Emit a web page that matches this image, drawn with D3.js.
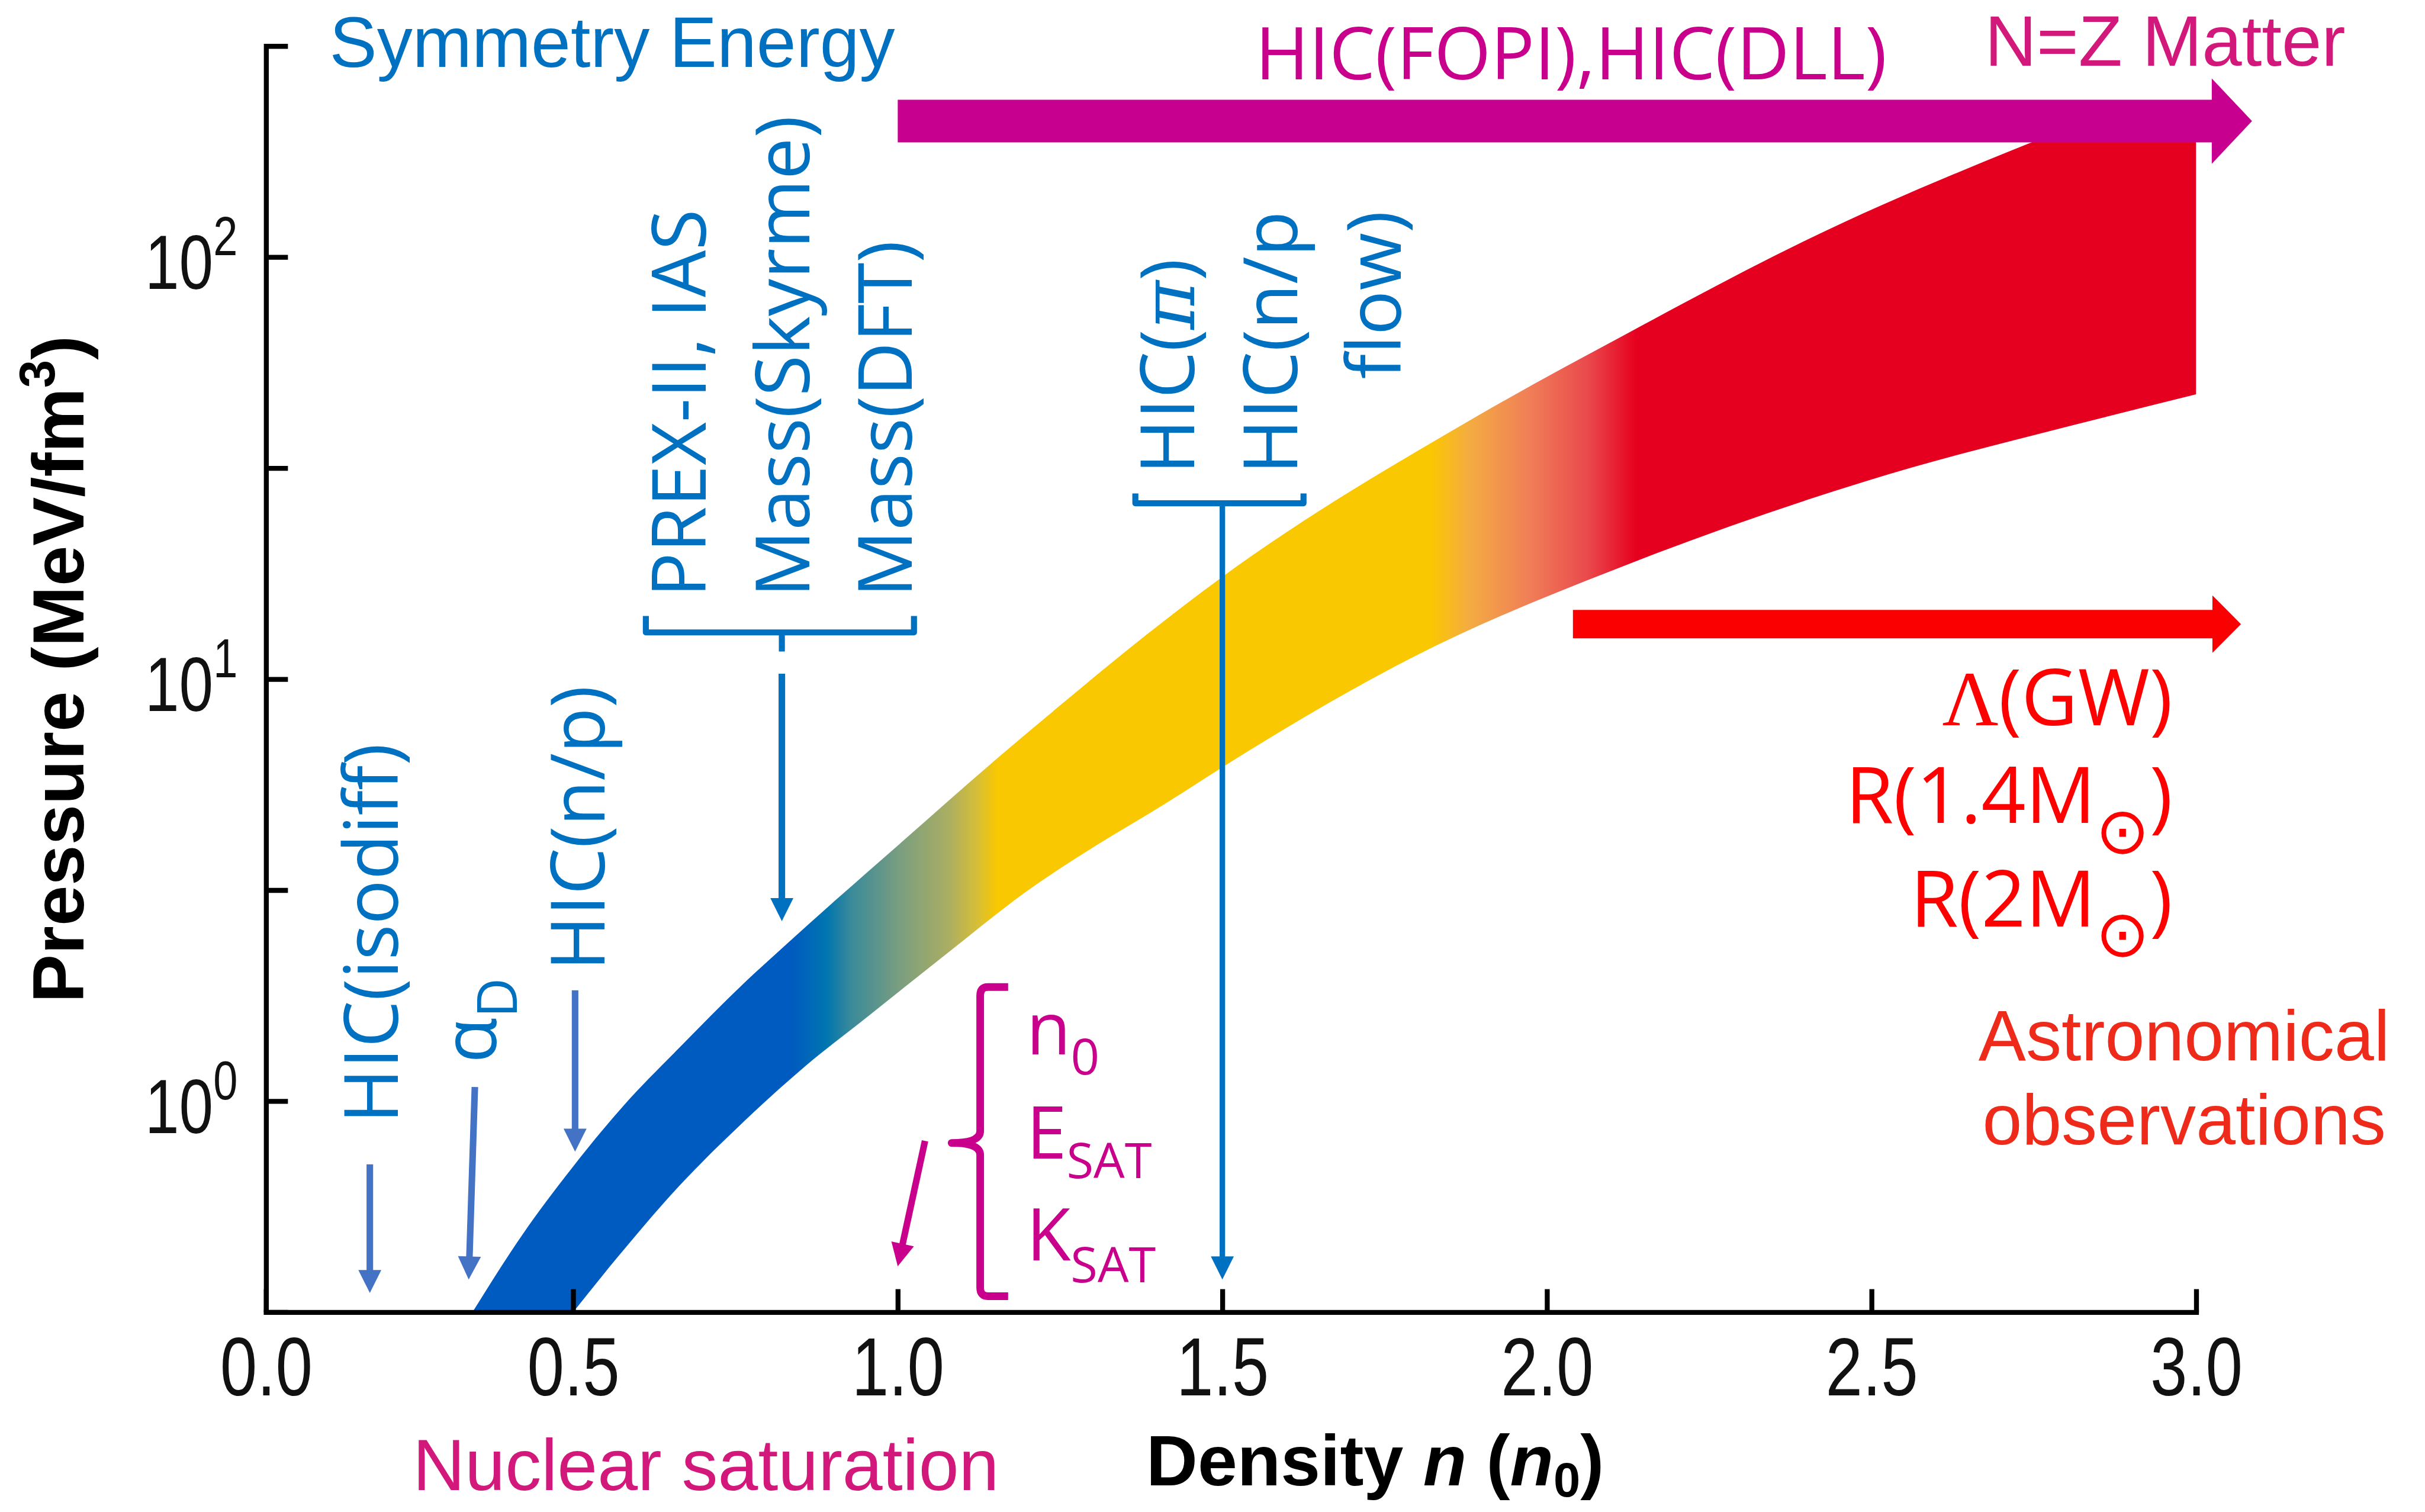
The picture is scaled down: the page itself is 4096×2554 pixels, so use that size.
<!DOCTYPE html>
<meta charset="utf-8">
<script src="https://d3js.org/d3.v7.min.js"></script>
<style>
  body { margin: 0; background: #fff; overflow: hidden; }
</style>
<body>
<script>

// band of allowed pressures (density in n0, pressure in MeV/fm3)
var upperN = [0.336, 0.418, 0.5, 0.578, 0.664, 0.761, 0.824, 0.906, 1.003, 1.144, 1.252, 1.359, 1.494, 1.895, 2.125, 2.401, 2.735, 3.0]
var upperP = [0.316, 0.484, 0.700, 0.977, 1.34, 1.89, 2.32, 3.01, 4.07, 6.31, 8.71, 11.9, 17.2, 42.2, 66.1, 110, 184, 263]
var lowerN = [0.5, 0.5675, 0.664, 0.761, 0.8575, 0.9545, 1.084, 1.197, 1.305, 1.412, 1.494, 1.5565, 1.79, 2.14, 2.49, 2.866, 3.0]
var lowerP = [0.316, 0.425, 0.631, 0.889, 1.21, 1.59, 2.29, 3.13, 4.03, 5.07, 6.10, 7.00, 11.2, 19.1, 29.4, 42.0, 47.3]

// colour of the band along the density axis
var stopN     = [0.837, 0.890, 0.928, 1.003, 1.079, 1.122, 1.154, 1.819, 1.879, 1.970, 2.062, 2.138]
var stopColor = ["#005BC0", "#0075B0", "#3A8A9A", "#7A9E80", "#ABAE62", "#D6BE38", "#FAC800", "#FAC800", "#F4AC40", "#F08058", "#EA4A4C", "#E6001F"]

// axis ticks
var xTicks = [0, 0.5, 1, 1.5, 2, 2.5, 3]
var yTicks = [Math.pow(10, -0.5), 1, Math.pow(10, 0.5), 10, Math.pow(10, 1.5), 100, Math.pow(10, 2.5)]
var yLabelExp = [0, 1, 2]

var W = 4430, H = 2762
var SANS = "'Liberation Sans', Arial, Helvetica, sans-serif"
var OPEN = "'Open Sans', 'Noto Sans', sans-serif"
var blue = "#0070C0", lightBlue = "#4472C4", magenta = "#C8008C", crimson = "#D2187A"

var svg = d3.select("body").append("svg")
    .attr("width", 4096)
    .attr("height", 2554)
    .attr("viewBox", "0 0 " + W + " " + H)

// scales (the left axis sits a little off the 0.0 spacing in the original)
var x = d3.scaleLinear().domain([0, 0.5, 3]).range([486, 1047, 4012])
var y = d3.scaleLog().domain([Math.pow(10, -0.5), Math.pow(10, 2.5)]).range([2397, 84])

// gradient + clip
var defs = svg.append("defs")
var grad = defs.append("linearGradient")
    .attr("id", "bandGrad")
    .attr("gradientUnits", "userSpaceOnUse")
    .attr("x1", x(0)).attr("x2", x(3)).attr("y1", 0).attr("y2", 0)
stopN.forEach(function(n, i) {
  grad.append("stop")
    .attr("offset", (x(n) - x(0)) / (x(3) - x(0)))
    .attr("stop-color", stopColor[i])
})
defs.append("clipPath").attr("id", "plotClip")
  .append("rect")
    .attr("x", x(0)).attr("width", x(3) - x(0))
    .attr("y", y(210)).attr("height", y(Math.pow(10, -0.5)) - y(210))

// the band
var line = d3.line().curve(d3.curveMonotoneX)
var upperPts = upperN.map(function(n, i) { return [x(n), y(upperP[i])] })
var lowerPts = lowerN.map(function(n, i) { return [x(n), y(lowerP[i])] }).reverse()
svg.append("path")
    .attr("d", line(upperPts) + line(lowerPts).replace(/^M/, "L") + "Z")
    .attr("fill", "url(#bandGrad)")
    .attr("clip-path", "url(#plotClip)")

// axes
var gx = svg.append("g")
    .attr("transform", "translate(0," + y(Math.pow(10, -0.5)) + ")")
    .call(d3.axisBottom(x).tickValues(xTicks).tickSize(-42).tickSizeOuter(0)
      .tickPadding(46).tickFormat(d3.format(".1f")))
var gy = svg.append("g")
    .attr("transform", "translate(" + x(0) + ",0)")
    .call(d3.axisLeft(y).tickValues(yTicks).tickSize(-40).tickSizeOuter(0).tickFormat(""))

;[gx, gy].forEach(function(g) {
  g.attr("font-family", SANS).attr("font-size", 150)
  g.select(".domain").attr("stroke", "#000").attr("stroke-width", 9).attr("stroke-linecap", "square")
  g.selectAll(".tick line").attr("stroke", "#000").attr("stroke-width", 9)
})
gx.selectAll(".tick text").attr("fill", "#111").attr("transform", "scale(0.81,1)")

// y labels 10^n
yLabelExp.forEach(function(e) {
  var t = svg.append("g")
      .attr("transform", "translate(434," + (y(Math.pow(10, e)) + 58) + ") scale(0.8,1)")
    .append("text")
      .attr("text-anchor", "end")
      .attr("font-family", SANS)
      .attr("font-size", 140)
      .attr("fill", "#111")
  t.append("tspan").text("10")
  t.append("tspan").attr("font-size", 100).attr("dy", -61).text(e)
})

// text helper: parts = [[string, {size, dy, family, style}], ...]
function label(o, parts) {
  var g = svg.append("g")
      .attr("transform", "translate(" + o.x + "," + o.y + ")" + (o.rot ? " rotate(-90)" : ""))
  var t = g.append("text")
      .attr("text-anchor", o.anchor || "start")
      .attr("font-family", o.family || SANS)
      .attr("font-size", o.size)
      .attr("font-weight", o.weight || "normal")
      .attr("fill", o.fill)
  parts.forEach(function(p) {
    var s = t.append("tspan").text(p[0])
    var q = p[1] || {}
    if (q.size) s.attr("font-size", q.size)
    if (q.dy) s.attr("dy", q.dy)
    if (q.family) s.attr("font-family", q.family)
    if (q.style) s.attr("font-style", q.style)
  })
  return t
}

// axis titles
label({x: 152, y: 1832, rot: true, size: 133, weight: "bold", fill: "#000"},
  [["Pressure (MeV/fm"], ["3", {size: 92, dy: -52}], [")", {dy: 52}]])
label({x: 2094, y: 2714, size: 130, weight: "bold", fill: "#000"},
  [["Density "], ["n", {style: "italic"}], [" ("], ["n", {style: "italic"}],
   ["0", {size: 88, dy: 20}], [")", {dy: -20}]])

// arrows: thin ones with a head, given in data coordinates
var thinArrows = [
  {n0: 0.169, p0: 0.708, n1: 0.169, p1: 0.351, color: lightBlue, w: 12},
  {n0: 0.340, p0: 1.08, n1: 0.330, p1: 0.378, color: lightBlue, w: 12},
  {n0: 0.503, p0: 1.83, n1: 0.503, p1: 0.759, color: lightBlue, w: 12},
  {n0: 0.8215, p0: 10.3, n1: 0.8215, p1: 2.67, color: blue, w: 12},
  {n0: 1.5, p0: 26.1, n1: 1.5, p1: 0.378, color: blue, w: 10},
  {n0: 1.042, p0: 0.805, n1: 1.0, p1: 0.406, color: magenta, w: 12}
]
thinArrows.forEach(function(a) {
  var x0 = x(a.n0), y0 = y(a.p0), x1 = x(a.n1), y1 = y(a.p1)
  var len = Math.hypot(x1 - x0, y1 - y0), ux = (x1 - x0) / len, uy = (y1 - y0) / len
  var hl = 42, hw = 21
  var bx = x1 - ux * hl, by = y1 - uy * hl
  svg.append("line")
      .attr("x1", x0).attr("y1", y0).attr("x2", bx + ux * 2).attr("y2", by + uy * 2)
      .attr("stroke", a.color).attr("stroke-width", a.w)
  svg.append("path")
      .attr("d", "M" + x1 + "," + y1 + "L" + (bx - uy * hw) + "," + (by + ux * hw) +
        "L" + (bx + uy * hw) + "," + (by - ux * hw) + "Z")
      .attr("fill", a.color)
})

// wide block arrows
var blockArrows = [
  {n0: 1.0, nBase: 3.024, n1: 3.086, p: 210, bar: 78, head: 156, color: "#C8008F"},
  {n0: 2.040, nBase: 3.025, n1: 3.069, p: 13.5, bar: 52, head: 105, color: "#FA0000"}
]
blockArrows.forEach(function(a) {
  var yc = y(a.p), x0 = x(a.n0), xb = x(a.nBase), x1 = x(a.n1)
  svg.append("path")
      .attr("d", "M" + x0 + "," + (yc - a.bar / 2) + "H" + xb + "V" + (yc - a.head / 2) +
        "L" + x1 + "," + yc + "L" + xb + "," + (yc + a.head / 2) + "V" + (yc + a.bar / 2) +
        "H" + x0 + "Z")
      .attr("fill", a.color)
})

// brackets under the rotated labels
var brackets = [
  {nL: 0.612, nR: 1.025, nC: 0.8215, p: 12.9, up: 30, stub: 35},
  {nL: 1.366, nR: 1.625, nC: 1.5, p: 26.1, up: 18, stub: 0}
]
brackets.forEach(function(b) {
  var yb = y(b.p), xl = x(b.nL), xr = x(b.nR), xc = x(b.nC)
  svg.append("path")
      .attr("d", "M" + xl + "," + (yb - b.up) + "V" + yb + "H" + xr + "V" + (yb - b.up) +
        (b.stub ? "M" + xc + "," + yb + "V" + (yb + b.stub) : ""))
      .attr("fill", "none").attr("stroke", blue).attr("stroke-width", 11)
      .attr("stroke-linejoin", "round")
})

// curly brace for saturation parameters
var brace = {nTip: 1.083, nV: 1.127, nHook: 1.17, pTop: 1.864, pMid: 0.796, pBot: 0.345}
;(function() {
  var xt = x(brace.nTip), xv = x(brace.nV), xh = x(brace.nHook)
  var yt = y(brace.pTop), ym = y(brace.pMid), yb = y(brace.pBot)
  svg.append("path")
      .attr("d", "M" + xh + "," + yt + "L" + (xv + 14) + "," + yt + "Q" + xv + "," + yt + " " + xv + "," + (yt + 16) +
        "L" + xv + "," + (ym - 22) + "Q" + xv + "," + ym + " " + xt + "," + ym +
        "Q" + xv + "," + ym + " " + xv + "," + (ym + 22) +
        "L" + xv + "," + (yb - 16) + "Q" + xv + "," + yb + " " + (xv + 14) + "," + yb + "L" + xh + "," + yb)
      .attr("fill", "none").attr("stroke", magenta).attr("stroke-width", 14)
      .attr("stroke-linejoin", "round")
})()

// blue rotated labels
var rotBlue = {rot: true, size: 136, family: OPEN, fill: blue}
label(Object.assign({x: 727, y: 2052}, rotBlue), [["HIC(isodiff)"]])
label(Object.assign({x: 906, y: 1942}, rotBlue), [["α"], ["D", {size: 100, dy: 38}]])
label(Object.assign({x: 1104, y: 1773}, rotBlue), [["HIC(n/p)"]])
label(Object.assign({x: 1289, y: 1091}, rotBlue), [["PREX-II, IAS"]])
label(Object.assign({x: 1478, y: 1091}, rotBlue), [["Mass(Skyrme)"]])
label(Object.assign({x: 1666, y: 1091}, rotBlue), [["Mass(DFT)"]])
label(Object.assign({x: 2182, y: 866}, rotBlue), [["HIC("], ["π", {family: "'DejaVu Serif', serif", style: "italic"}], [")"]])
label(Object.assign({x: 2370, y: 866}, rotBlue), [["HIC(n/p"]])
label(Object.assign({x: 2559, y: 385, anchor: "end"}, rotBlue), [["flow)"]])

// headers
label({x: 602, y: 122, size: 130, fill: blue}, [["Symmetry Energy"]])
label({x: 2870, y: 145, size: 133, family: OPEN, fill: magenta, anchor: "middle"}, [["HIC(FOPI),HIC(DLL)"]])
label({x: 3626, y: 120, size: 131, fill: crimson}, [["N=Z Matter"]])
label({x: 754, y: 2722, size: 132, fill: crimson}, [["Nuclear saturation"]])

// saturation parameters
label({x: 1875, y: 1926, size: 132, family: OPEN, fill: magenta}, [["n"], ["0", {size: 92, dy: 37}]])
label({x: 1875, y: 2116, size: 132, family: OPEN, fill: magenta}, [["E"], ["SAT", {size: 90, dy: 36}]])
label({x: 1875, y: 2303, size: 132, family: OPEN, fill: magenta}, [["K"], ["SAT", {size: 90, dy: 40}]])

// astronomical side
var sun = {family: "'DejaVu Sans', sans-serif", size: 118, dy: 55}
label({x: 3969, y: 1325, size: 142, family: OPEN, fill: "#FF0000", anchor: "end"},
  [["Λ", {family: "'Liberation Serif', serif"}], ["(GW)"]])
label({x: 3969, y: 1503, size: 142, family: OPEN, fill: "#FF0000", anchor: "end"},
  [["R(1.4M"], ["⊙", sun], [")", {dy: -55}]])
label({x: 3969, y: 1692, size: 142, family: OPEN, fill: "#FF0000", anchor: "end"},
  [["R(2M"], ["⊙", sun], [")", {dy: -55}]])
label({x: 3990, y: 1937, size: 130, fill: "#EE2A1A", anchor: "middle"}, [["Astronomical"]])
label({x: 3990, y: 2090, size: 130, fill: "#EE2A1A", anchor: "middle"}, [["observations"]])

</script>
</body>
